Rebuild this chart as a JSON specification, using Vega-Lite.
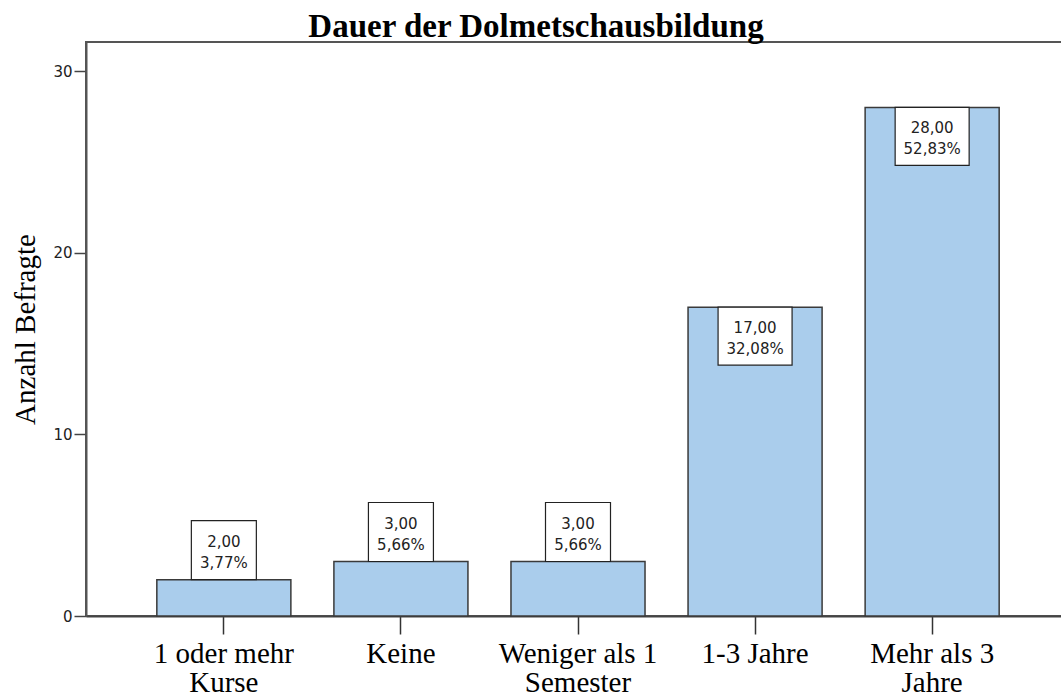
{
  "$schema": "https://vega.github.io/schema/vega-lite/v6.json",
  "width": 984,
  "height": 574,
  "autosize": {"type": "none"},
  "padding": {"left": 86, "top": 42, "right": 0, "bottom": 81},
  "title": {
    "text": "Dauer der Dolmetschausbildung",
    "font": "Liberation Serif",
    "fontSize": 33,
    "fontWeight": "bold",
    "color": "#000000",
    "anchor": "middle",
    "dx": -42,
    "offset": -2
  },
  "config": {
    "locale": {"number": {"decimal": ",", "thousands": ".", "grouping": [3], "currency": ["", " €"]}},
    "view": {"stroke": "#555555", "strokeWidth": 2}
  },
  "data": {
    "values": [
      {"Dauer": "1 oder mehr Kurse", "n": 2, "pct": 0.0377},
      {"Dauer": "Keine", "n": 3, "pct": 0.0566},
      {"Dauer": "Weniger als 1 Semester", "n": 3, "pct": 0.0566},
      {"Dauer": "1-3 Jahre", "n": 17, "pct": 0.3208},
      {"Dauer": "Mehr als 3 Jahre", "n": 28, "pct": 0.5283}
    ]
  },
  "encoding": {
    "x": {
      "field": "Dauer",
      "type": "nominal",
      "sort": null,
      "scale": {"paddingInner": 0.243, "paddingOuter": 0.4},
      "axis": {
        "title": null,
        "labelAngle": 0,
        "labelFont": "Liberation Serif",
        "labelFontSize": 29,
        "labelColor": "#000000",
        "labelLineHeight": 29,
        "labelPadding": 5,
        "labelExpr": "datum.value == '1 oder mehr Kurse' ? ['1 oder mehr', 'Kurse'] : datum.value == 'Weniger als 1 Semester' ? ['Weniger als 1', 'Semester'] : datum.value == 'Mehr als 3 Jahre' ? ['Mehr als 3', 'Jahre'] : datum.value",
        "tickSize": 18,
        "tickColor": "#333333",
        "tickWidth": 1.5,
        "domainColor": "#444444",
        "domainWidth": 2,
        "grid": false
      }
    },
    "y": {
      "field": "n",
      "type": "quantitative",
      "scale": {"domain": [0, 31.6], "nice": false},
      "axis": {
        "title": "Anzahl Befragte",
        "titleFont": "Liberation Serif",
        "titleFontSize": 29,
        "titleFontWeight": "normal",
        "titleColor": "#000000",
        "titlePadding": 12,
        "values": [0, 10, 20, 30],
        "labelFont": "DejaVu Sans",
        "labelFontSize": 15,
        "labelColor": "#222222",
        "labelPadding": 2,
        "tickSize": 12,
        "tickColor": "#444444",
        "tickWidth": 1.5,
        "domainColor": "#555555",
        "domainWidth": 2,
        "grid": false
      }
    }
  },
  "layer": [
    {
      "mark": {"type": "bar", "fill": "#AACDEC", "stroke": "#3a3a3a", "strokeWidth": 1.5}
    },
    {
      "transform": [{"filter": "datum.n < 10"}],
      "mark": {"type": "bar", "width": 65, "fill": "#ffffff", "stroke": "#222222", "strokeWidth": 1.2, "yOffset": -59},
      "encoding": {"y2": {"field": "n"}}
    },
    {
      "transform": [{"filter": "datum.n >= 10"}],
      "mark": {"type": "bar", "width": 74, "fill": "#ffffff", "stroke": "#222222", "strokeWidth": 1.2, "y2Offset": 58},
      "encoding": {"y2": {"field": "n"}}
    },
    {
      "transform": [{"filter": "datum.n < 10"}],
      "mark": {"type": "text", "font": "DejaVu Sans", "fontSize": 15, "color": "#222222", "baseline": "middle", "dy": -38},
      "encoding": {"text": {"field": "n", "type": "quantitative", "format": ".2f"}}
    },
    {
      "transform": [{"filter": "datum.n < 10"}],
      "mark": {"type": "text", "font": "DejaVu Sans", "fontSize": 15, "color": "#222222", "baseline": "middle", "dy": -17},
      "encoding": {"text": {"field": "pct", "type": "quantitative", "format": ".2%"}}
    },
    {
      "transform": [{"filter": "datum.n >= 10"}],
      "mark": {"type": "text", "font": "DejaVu Sans", "fontSize": 15, "color": "#222222", "baseline": "middle", "dy": 21},
      "encoding": {"text": {"field": "n", "type": "quantitative", "format": ".2f"}}
    },
    {
      "transform": [{"filter": "datum.n >= 10"}],
      "mark": {"type": "text", "font": "DejaVu Sans", "fontSize": 15, "color": "#222222", "baseline": "middle", "dy": 42},
      "encoding": {"text": {"field": "pct", "type": "quantitative", "format": ".2%"}}
    }
  ]
}
